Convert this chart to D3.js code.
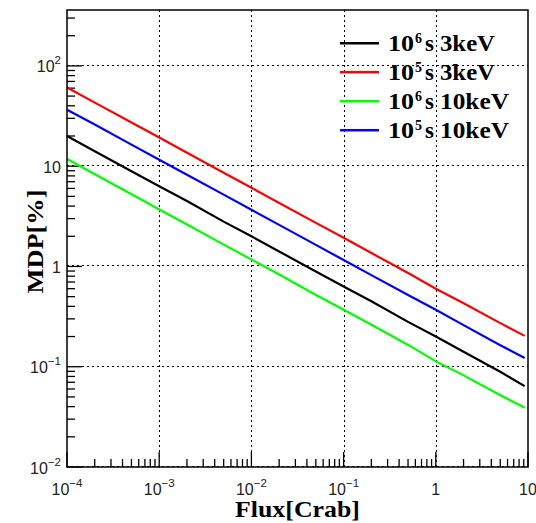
<!DOCTYPE html>
<html>
<head>
<meta charset="utf-8">
<script src="https://cdn.jsdelivr.net/npm/d3@7"></script>
<style>
  html, body { margin: 0; padding: 0; background: #fff; }
  svg { display: block; }
</style>
</head>
<body>
<svg id="chart" width="536" height="523"></svg>
<script>
// Flux sample points [Crab]
const flux = [1e-4, 2e-4, 5e-4, 1e-3, 2e-3, 5e-3, 1e-2, 2e-2, 5e-2, 0.1, 0.2, 0.5, 1, 2, 5, 9.2];

// MDP [%] for each observation setup
const mdp1e6s3keV  = [20, 14.1, 8.9, 6.3, 4.5, 2.8, 2.0, 1.41, 0.89, 0.63, 0.45, 0.28, 0.2, 0.141, 0.089, 0.064];
const mdp1e5s3keV  = [61, 43, 27.3, 19.3, 13.6, 8.6, 6.1, 4.3, 2.72, 1.93, 1.36, 0.86, 0.6, 0.43, 0.272, 0.203];
const mdp1e6s10keV = [11.8, 8.3, 5.25, 3.7, 2.62, 1.65, 1.17, 0.83, 0.52, 0.37, 0.262, 0.165, 0.113, 0.082, 0.052, 0.039];
const mdp1e5s10keV = [36.5, 26, 16.4, 11.6, 8.2, 5.2, 3.68, 2.6, 1.64, 1.16, 0.82, 0.52, 0.37, 0.26, 0.164, 0.122];

const seriesNames  = ["6|3keV", "5|3keV", "6|10keV", "5|10keV"];
const seriesColors = ["#000000", "#ff0000", "#00ff00", "#0000ff"];
const seriesValues = [mdp1e6s3keV, mdp1e5s3keV, mdp1e6s10keV, mdp1e5s10keV];

// Axis tick labels
const xTickVals = [1e-4, 1e-3, 1e-2, 1e-1, 1, 10];
const xTickText = [["10", "−4"], ["10", "−3"], ["10", "−2"], ["10", "−1"], ["1", ""], ["10", ""]];
const yTickVals = [1e-2, 1e-1, 1, 10, 100];
const yTickText = [["10", "−2"], ["10", "−1"], ["1", ""], ["10", ""], ["10", "2"]];

const L = 67, R = 528, T = 10, B = 467;
const svg = d3.select("#chart");

const x = d3.scaleLog().domain([1e-4, 10]).range([L, R]);
const y = d3.scaleLog().domain([0.01, 361]).range([B, T]);
const px = v => Math.round(v) + 0.5;

// Grid (dotted, major decades)
const grid = svg.append("g").attr("stroke", "#000").attr("stroke-width", 1)
  .attr("stroke-dasharray", "2,3").attr("shape-rendering", "crispEdges");
xTickVals.filter(v => v > 1e-4 && v < 10).forEach(v => {
  grid.append("line").attr("x1", px(x(v))).attr("x2", px(x(v))).attr("y1", T).attr("y2", B);
});
yTickVals.forEach(v => {
  grid.append("line").attr("x1", L).attr("x2", R).attr("y1", px(y(v)) - 1).attr("y2", px(y(v)) - 1);
});

// Minor + major ticks, drawn inward from the bottom and left axes
const ticks = svg.append("g").attr("stroke", "#000").attr("stroke-width", 1.3);
const xMinor = [];
for (let e = -4; e < 1; e++) for (let m = 2; m <= 9; m++) xMinor.push(m * Math.pow(10, e));
xMinor.forEach(v => ticks.append("line").attr("x1", x(v)).attr("x2", x(v)).attr("y1", B).attr("y2", B - 8));
xTickVals.forEach(v => ticks.append("line").attr("x1", x(v)).attr("x2", x(v)).attr("y1", B).attr("y2", B - 15));
const yMinor = [];
for (let e = -2; e < 2; e++) for (let m = 2; m <= 9; m++) yMinor.push(m * Math.pow(10, e));
yMinor.push(200, 300);
yMinor.forEach(v => ticks.append("line").attr("x1", L).attr("x2", L + 8).attr("y1", y(v)).attr("y2", y(v)));
yTickVals.forEach(v => ticks.append("line").attr("x1", L).attr("x2", L + 15).attr("y1", y(v)).attr("y2", y(v)));

// Curves
const line = d3.line().x(d => x(d[0])).y(d => y(d[1]));
seriesValues.forEach((vals, i) => {
  svg.append("path")
    .datum(flux.map((f, k) => [f, vals[k]]))
    .attr("fill", "none")
    .attr("stroke", seriesColors[i])
    .attr("stroke-width", 2.2)
    .attr("stroke-linejoin", "round")
    .attr("d", line);
});

// Frame
svg.append("rect").attr("x", L).attr("y", T).attr("width", R - L).attr("height", B - T)
  .attr("fill", "none").attr("stroke", "#000").attr("stroke-width", 1.5);

// Tick labels
const lblFont = "'Liberation Sans', Arial, sans-serif";
xTickVals.forEach((v, i) => {
  const t = svg.append("text").attr("x", x(v)).attr("y", 495)
    .attr("text-anchor", "middle").attr("font-family", lblFont).attr("font-size", 16).attr("fill", "#222");
  t.append("tspan").text(xTickText[i][0]);
  if (xTickText[i][1]) t.append("tspan").attr("dy", -8).attr("font-size", 11.5).text(xTickText[i][1]);
});
yTickVals.forEach((v, i) => {
  const t = svg.append("text").attr("x", 61).attr("y", y(v) + 6.5)
    .attr("text-anchor", "end").attr("font-family", lblFont).attr("font-size", 16).attr("fill", "#222");
  t.append("tspan").text(yTickText[i][0]);
  if (yTickText[i][1]) t.append("tspan").attr("dy", -8).attr("font-size", 11.5).text(yTickText[i][1]);
});

// Axis titles
const titleFont = "'Liberation Serif', 'Times New Roman', serif";
svg.append("text").attr("x", (L + R) / 2).attr("y", 517).attr("text-anchor", "middle")
  .attr("font-family", titleFont).attr("font-weight", "bold").attr("font-size", 23)
  .attr("textLength", 125).attr("lengthAdjust", "spacingAndGlyphs").text("Flux[Crab]");
svg.append("text").attr("transform", `translate(43,${(T + B) / 2 + 3}) rotate(-90)`).attr("text-anchor", "middle")
  .attr("font-family", titleFont).attr("font-weight", "bold").attr("font-size", 23)
  .attr("textLength", 104).attr("lengthAdjust", "spacingAndGlyphs").text("MDP[%]");

// Legend
seriesNames.forEach((name, i) => {
  const [exp, energy] = name.split("|");
  const ly = 43.3 + i * 29;
  svg.append("line").attr("x1", 340).attr("x2", 379).attr("y1", ly).attr("y2", ly)
    .attr("stroke", seriesColors[i]).attr("stroke-width", 2.4);
  const g = svg.append("g").attr("font-family", titleFont).attr("font-weight", "bold").attr("fill", "#000");
  g.append("text").attr("x", 388).attr("y", ly + 7.7).attr("font-size", 23)
    .attr("textLength", 26).attr("lengthAdjust", "spacingAndGlyphs").text("10");
  g.append("text").attr("x", 415).attr("y", ly - 0.5).attr("font-size", 14).text(exp);
  g.append("text").attr("x", 425).attr("y", ly + 7.7).attr("font-size", 23).text("s");
  g.append("text").attr("x", 440).attr("y", ly + 7.7).attr("font-size", 23)
    .attr("textLength", energy === "3keV" ? 55 : 69).attr("lengthAdjust", "spacingAndGlyphs").text(energy);
});
</script>
</body>
</html>
